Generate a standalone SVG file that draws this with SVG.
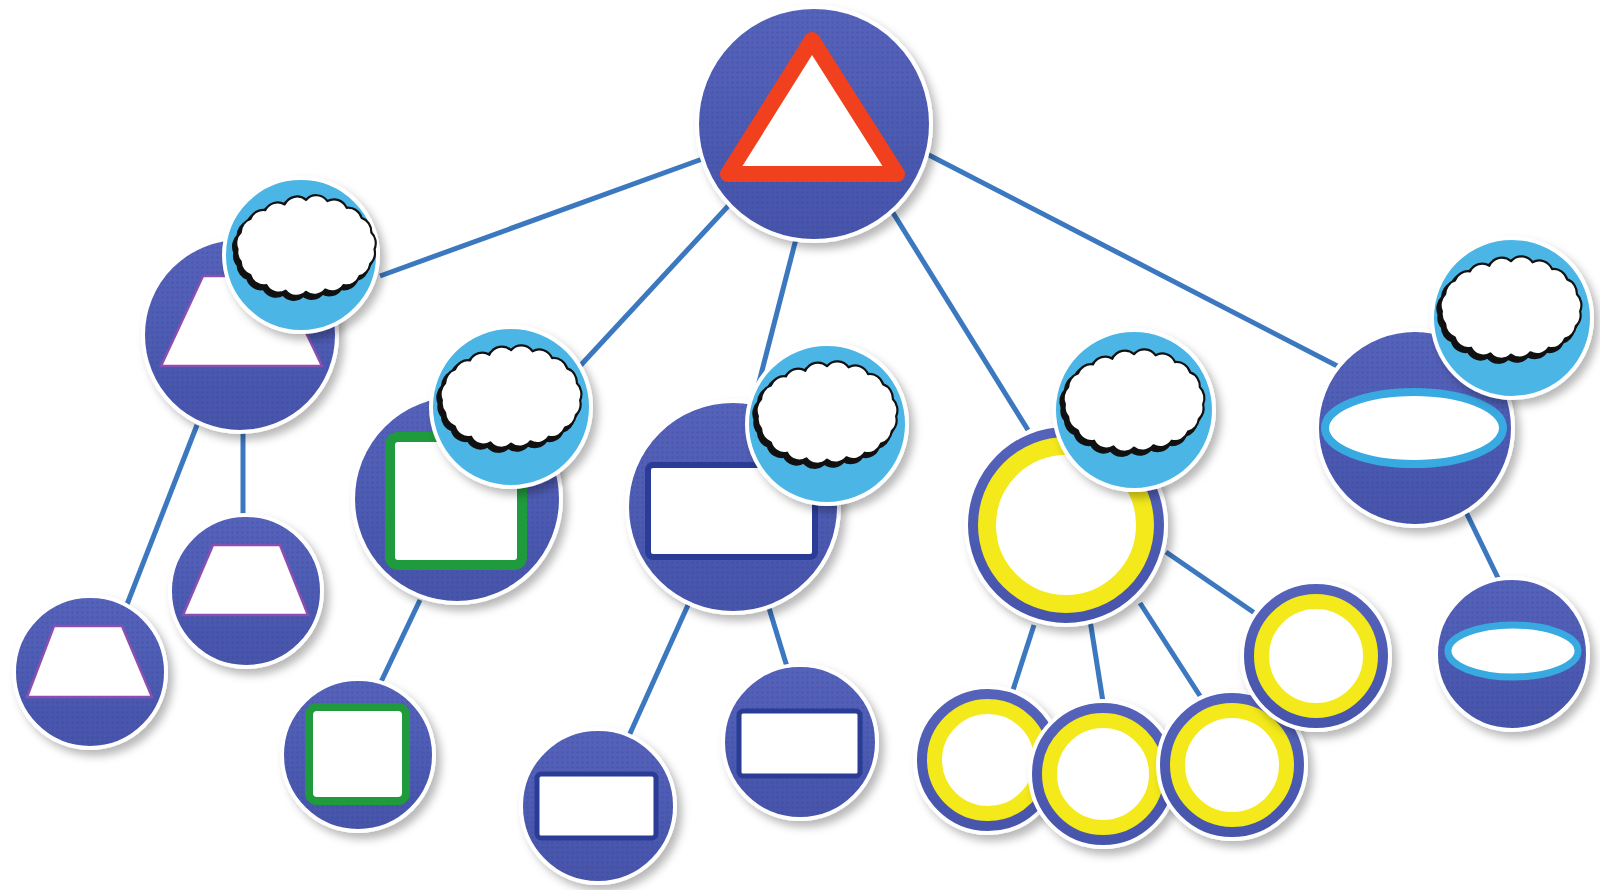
<svg xmlns="http://www.w3.org/2000/svg" xmlns:xlink="http://www.w3.org/1999/xlink" width="1600" height="890" viewBox="0 0 1600 890">
<style>
.edge{stroke:#3b78c0;stroke-width:5;fill:none;stroke-linecap:butt}
.disc{fill:url(#discGrad);stroke:#ffffff;stroke-width:4;filter:url(#shadow)}
.dots{fill:url(#dots);pointer-events:none}
.bubble{fill:#4bb6e6;stroke:#ffffff;stroke-width:4;filter:url(#shadow)}
.trap{fill:#ffffff;stroke:#8a4fb0;stroke-width:2.5;stroke-linejoin:miter}
.gsq{fill:#ffffff;stroke:#1f9a3c}
.brect{fill:#ffffff;stroke:#2b3c96}
.yring{fill:#ffffff;stroke:#f3e91b}
.ell{fill:#ffffff;stroke:#39a9e1}
</style>
<defs>
<linearGradient id="discGrad" x1="0" y1="0" x2="0" y2="1">
<stop offset="0" stop-color="#5663bb"/>
<stop offset="1" stop-color="#4654aa"/>
</linearGradient>
<pattern id="dots" width="5" height="5" patternUnits="userSpaceOnUse">
<circle cx="2.5" cy="2.5" r="1.2" fill="#2e3a8a" fill-opacity="0.25"/>
</pattern>
<filter id="shadow" x="-20%" y="-20%" width="150%" height="150%">
<feDropShadow dx="5" dy="6" stdDeviation="4" flood-color="#000000" flood-opacity="0.28"/>
</filter>
<path id="cloudShape" d="M -64 2 A 13 13 0 0 1 -61 -13 A 13 13 0 0 1 -52 -25 A 13 13 0 0 1 -38 -33 A 13 13 0 0 1 -20 -38 A 13 13 0 0 1 0 -42 A 13 13 0 0 1 20 -41 A 13 13 0 0 1 38 -35 A 13 13 0 0 1 52 -26 A 13 13 0 0 1 61 -13 A 13 13 0 0 1 64 2 A 13 13 0 0 1 60 15 A 13 13 0 0 1 50 26 A 13 13 0 0 1 35 34 A 13 13 0 0 1 18 38 A 13 13 0 0 1 0 40 A 13 13 0 0 1 -19 39 A 13 13 0 0 1 -37 34 A 13 13 0 0 1 -52 25 A 13 13 0 0 1 -61 13 A 13 13 0 0 1 -64 2 Z"/>
<g id="cloud">
<use xlink:href="#cloudShape" href="#cloudShape" transform="translate(-2.5,3)" fill="#111111" stroke="#111111" stroke-width="3" stroke-linejoin="round"/>
<use xlink:href="#cloudShape" href="#cloudShape" fill="#ffffff" stroke="#111111" stroke-width="2" stroke-linejoin="round"/>
</g>
</defs>

<rect width="1600" height="890" fill="#ffffff"/>

<g id="connectors">
<line class="edge" x1="705" y1="158" x2="380" y2="276"/>
<line class="edge" x1="730" y1="204" x2="580" y2="366"/>
<line class="edge" x1="797" y1="235" x2="757" y2="390"/>
<line class="edge" x1="890" y1="208" x2="1028" y2="430"/>
<line class="edge" x1="925" y1="153" x2="1345" y2="370"/>
<line class="edge" x1="197" y1="425" x2="126" y2="607"/>
<line class="edge" x1="243" y1="432" x2="243" y2="516"/>
<line class="edge" x1="420" y1="600" x2="380" y2="684"/>
<line class="edge" x1="688" y1="605" x2="628" y2="738"/>
<line class="edge" x1="769" y1="608" x2="788" y2="670"/>
<line class="edge" x1="1034" y1="625" x2="1013" y2="690"/>
<line class="edge" x1="1090" y1="620" x2="1103" y2="702"/>
<line class="edge" x1="1140" y1="603" x2="1202" y2="699"/>
<line class="edge" x1="1166" y1="552" x2="1256" y2="614"/>
<line class="edge" x1="1466" y1="512" x2="1500" y2="582"/>
</g>

<g id="root">
<circle class="disc" cx="814" cy="124" r="117"/>
<circle class="dots" cx="814" cy="124" r="115"/>
<polygon points="812,40 728,174 897,174" fill="#ffffff" stroke="#f0401e" stroke-width="16" stroke-linejoin="round"/>
</g>

<g id="node-trapezoid">
<circle class="disc" cx="240" cy="335" r="97"/>
<circle class="dots" cx="240" cy="335" r="95"/>
<polygon class="trap" points="203,276 279,276 322,366 161,366"/>
<g id="cloud-trapezoid">
<circle class="bubble" cx="301" cy="255" r="77"/>
<use xlink:href="#cloud" href="#cloud" transform="translate(306,247) scale(1.07,1.12)"/>
</g>
</g>

<g id="leaf-trapezoid-1">
<circle class="disc" cx="90" cy="672" r="76"/>
<circle class="dots" cx="90" cy="672" r="74"/>
<polygon class="trap" points="54,626 122,626 152,697 27,697"/>
</g>

<g id="leaf-trapezoid-2">
<circle class="disc" cx="246" cy="591" r="76"/>
<circle class="dots" cx="246" cy="591" r="74"/>
<polygon class="trap" points="213,545 280,545 308,615 183,615"/>
</g>

<g id="node-square">
<circle class="disc" cx="457" cy="499" r="104"/>
<circle class="dots" cx="457" cy="499" r="102"/>
<rect class="gsq" x="390" y="437" width="132" height="128" rx="8" stroke-width="10"/>
<g id="cloud-square">
<circle class="bubble" cx="511" cy="407" r="80"/>
<use xlink:href="#cloud" href="#cloud" transform="translate(511,398) scale(1.08,1.14)"/>
</g>
</g>

<g id="leaf-square">
<circle class="disc" cx="358" cy="755" r="76"/>
<circle class="dots" cx="358" cy="755" r="74"/>
<rect class="gsq" x="309" y="707" width="97" height="94" rx="8" stroke-width="8"/>
</g>

<g id="node-rect">
<circle class="disc" cx="733" cy="507" r="106"/>
<circle class="dots" cx="733" cy="507" r="104"/>
<rect class="brect" x="648" y="465" width="167" height="92" rx="5" stroke-width="6"/>
<g id="cloud-rect">
<circle class="bubble" cx="827" cy="424" r="80"/>
<use xlink:href="#cloud" href="#cloud" transform="translate(827,414) scale(1.08,1.14)"/>
</g>
</g>

<g id="leaf-rect-1">
<circle class="disc" cx="598" cy="806" r="77"/>
<circle class="dots" cx="598" cy="806" r="75"/>
<rect class="brect" x="537" y="774" width="119" height="64" rx="4" stroke-width="5"/>
</g>

<g id="leaf-rect-2">
<circle class="disc" cx="800" cy="742" r="77"/>
<circle class="dots" cx="800" cy="742" r="75"/>
<rect class="brect" x="739" y="711" width="121" height="65" rx="4" stroke-width="5"/>
</g>

<g id="node-ring">
<circle class="disc" cx="1066" cy="525" r="100"/>
<circle class="yring" cx="1066" cy="525" r="79" stroke-width="18"/>
<g id="cloud-ring">
<circle class="bubble" cx="1134" cy="410" r="80"/>
<use xlink:href="#cloud" href="#cloud" transform="translate(1134,402) scale(1.08,1.14)"/>
</g>
</g>

<g id="leaf-ring-1">
<circle class="disc" cx="988" cy="760" r="73"/>
<circle class="yring" cx="988" cy="760" r="53.5" stroke-width="15"/>
</g>
<g id="leaf-ring-2">
<circle class="disc" cx="1103" cy="774" r="73"/>
<circle class="yring" cx="1103" cy="774" r="53.5" stroke-width="15"/>
</g>
<g id="leaf-ring-3">
<circle class="disc" cx="1232" cy="765" r="74"/>
<circle class="yring" cx="1232" cy="765" r="54.5" stroke-width="15"/>
</g>
<g id="leaf-ring-4">
<circle class="disc" cx="1316" cy="656" r="74"/>
<circle class="yring" cx="1316" cy="656" r="54.5" stroke-width="15"/>
</g>

<g id="node-ellipse">
<circle class="disc" cx="1415" cy="428" r="98"/>
<circle class="dots" cx="1415" cy="428" r="96"/>
<ellipse class="ell" cx="1414" cy="428" rx="89" ry="36" stroke-width="8"/>
<g id="cloud-ellipse">
<circle class="bubble" cx="1512" cy="318" r="80"/>
<use xlink:href="#cloud" href="#cloud" transform="translate(1511,309) scale(1.08,1.14)"/>
</g>
</g>

<g id="leaf-ellipse">
<circle class="disc" cx="1512" cy="654" r="76"/>
<circle class="dots" cx="1512" cy="654" r="74"/>
<ellipse class="ell" cx="1513" cy="651" rx="65" ry="26" stroke-width="7"/>
</g>
</svg>
